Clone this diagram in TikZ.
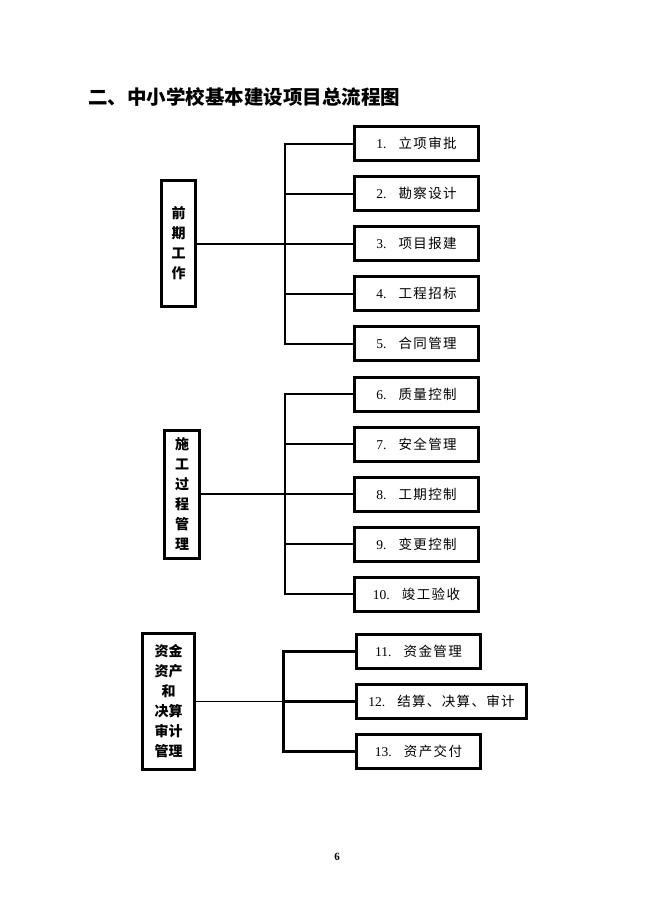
\documentclass[tikz,border=0pt]{standalone}
\usepackage{fontspec}
\setmainfont{Liberation Serif}
\newfontfamily\cjk{Noto Sans CJK SC}
\newfontfamily\cjkbox[LetterSpace=10]{Noto Sans CJK SC}
\newcommand{\steptext}[2]{\raisebox{-3pt}{#1.\hspace{0.9em}{\cjkbox #2}}}

\begin{document}
\begin{tikzpicture}[x=1pt,y=-1pt,grow'=right,
	level 1/.style={sibling distance=50pt},
	stage/.style={draw,line width=3pt,align=center,inner sep=0pt,font=\cjk\bfseries\fontsize{14}{20}\selectfont},
	stepbox/.style={draw,line width=3pt,anchor=west,minimum width=124pt,minimum height=34pt,inner sep=2pt,font=\fontsize{13.5}{16}\selectfont},
	every child node/.style={stepbox},
	fork at/.store in=\forkgap,fork at=88,
	edge from parent/.style={draw,line width=2pt},
	edge from parent path={(\tikzparentnode.east) ++(\forkgap,0) |- (\tikzchildnode.west)}]
	\useasboundingbox (0,0) rectangle (650,919);
	\node[anchor=west,inner sep=0pt,font=\cjk\bfseries\fontsize{19.5}{22}\selectfont] (title) at (88,97) {二、中小学校基本建设项目总流程图};

	% 前期工作
	\begin{scope}[level distance=174.5pt,fork at=88]
	\node[stage,minimum width=34pt,minimum height=126pt] (pre) at (178.5,243.5) {前\\期\\工\\作}
		child {node (pre-1) {\steptext{1}{立项审批}}}
		child {node (pre-2) {\steptext{2}{勘察设计}}}
		child {node (pre-3) {\steptext{3}{项目报建}}}
		child {node (pre-4) {\steptext{4}{工程招标}}}
		child {node (pre-5) {\steptext{5}{合同管理}}}
	;
	\draw[line width=2pt] (pre) -- (pre-3);
	\end{scope}

	% 施工过程管理
	\begin{scope}[level distance=171pt,fork at=84]
	\node[stage,minimum width=35pt,minimum height=128pt] (build) at (182,494) {施\\工\\过\\程\\管\\理}
		child {node (build-1) {\steptext{6}{质量控制}}}
		child {node (build-2) {\steptext{7}{安全管理}}}
		child {node (build-3) {\steptext{8}{工期控制}}}
		child {node (build-4) {\steptext{9}{变更控制}}}
		child {node (build-5) {\steptext{10}{竣工验收}}}
	;
	\draw[line width=2pt] (build) -- (build-3);
	\end{scope}

	% 资金资产和决算审计管理
	\begin{scope}[level distance=186.5pt,fork at=87,edge from parent/.style={draw,line width=3pt}]
	\node[stage,minimum width=52pt,minimum height=136pt,yshift=-7.5pt] (fund) at (168.5,694) {资金\\资产\\和\\决算\\审计\\管理}
		child {node (fund-1) {\steptext{11}{资金管理}}}
		child {node[minimum width=170pt] (fund-2) {\steptext{12}{结算、决算、审计}}}
		child {node (fund-3) {\steptext{13}{资产交付}}}
	;
	\draw[line width=1pt] (fund-2 -| fund.east) -- (fund-2);
	\end{scope}

	\node[font=\bfseries\fontsize{11}{13}\selectfont] (page) at (337,857) {6};
\end{tikzpicture}
\end{document}
